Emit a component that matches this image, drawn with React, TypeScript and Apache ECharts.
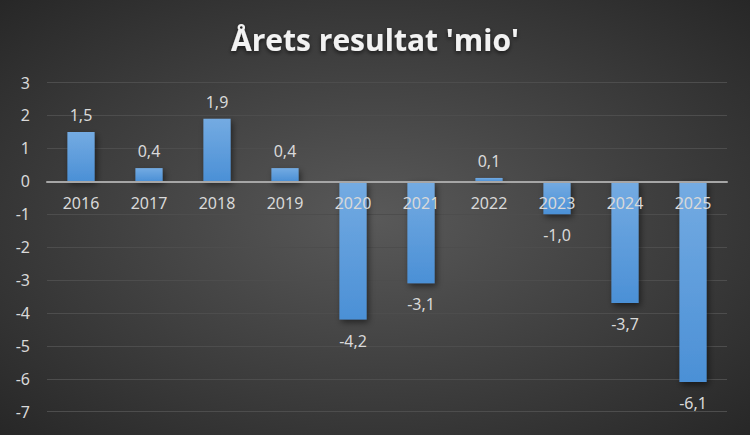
import React, { useEffect, useRef } from "react";
import * as echarts from "echarts";

const categories = ["2016", "2017", "2018", "2019", "2020", "2021", "2022", "2023", "2024", "2025"];
const values = [1.5, 0.4, 1.9, 0.4, -4.2, -3.1, 0.1, -1.0, -3.7, -6.1];
const yMin = -7;
const yMax = 3;

export default function App() {
  const ref = useRef<HTMLDivElement>(null);
  useEffect(() => {
    const chart = echarts.init(ref.current!, null, { renderer: "svg" });
    const font = "'Noto Sans', sans-serif";
    const gridTop = 82.5;
    const gridBottom = 23.3;
    const gridH = 435 - gridTop - gridBottom;
    const zeroFromBottom = (gridH * (0 - yMin)) / (yMax - yMin);
    chart.setOption({
      animation: false,
      backgroundColor: {
        type: "radial",
        x: 0.5,
        y: 0.5,
        r: 0.75,
        colorStops: [
          { offset: 0, color: "#595959" },
          { offset: 1, color: "#242424" },
        ],
      },
      title: {
        text: "Årets resultat 'mio'",
        left: "center",
        top: 19,
        textStyle: {
          color: "#f2f2f2",
          fontFamily: "'Open Sans', sans-serif",
          fontSize: 30,
          fontWeight: "bold",
          textShadowColor: "rgba(0,0,0,0.6)",
          textShadowBlur: 4,
          textShadowOffsetY: 2,
        },
      },
      grid: { left: 47, right: 23, top: gridTop, bottom: gridBottom, containLabel: false },
      xAxis: {
        type: "category",
        data: categories,
        z: 10,
        position: "bottom",
        offset: -zeroFromBottom,
        axisTick: { show: false },
        axisLine: { show: true, onZero: false, lineStyle: { color: "#a6a6a6", width: 2 } },
        axisLabel: { color: "#d9d9d9", fontFamily: font, fontSize: 16, margin: 14 },
      },
      yAxis: {
        type: "value",
        min: yMin,
        max: yMax,
        interval: 1,
        axisLine: { show: false },
        axisTick: { show: false },
        splitLine: { lineStyle: { color: "#4d4d4d", width: 1 } },
        axisLabel: { color: "#d9d9d9", fontFamily: font, fontSize: 16, margin: 17 },
      },
      series: [
        {
          type: "bar",
          barWidth: "40%",
          data: values.map((v) => ({
            value: v,
            label: {
              show: true,
              position: v >= 0 ? "top" : "bottom",
              distance: v >= 0 ? 9 : 13,
            },
          })),
          label: {
            color: "#d9d9d9",
            fontFamily: font,
            fontSize: 16,
            formatter: (p: any) => Number(p.value).toFixed(1).replace(".", ","),
          },
          itemStyle: {
            color: {
              type: "linear",
              x: 0,
              y: 0,
              x2: 0,
              y2: 1,
              colorStops: [
                { offset: 0, color: "#74abe2" },
                { offset: 1, color: "#4b90d6" },
              ],
            },
            shadowColor: "rgba(0,0,0,0.5)",
            shadowBlur: 6,
            shadowOffsetX: 2,
            shadowOffsetY: 3,
          },
        },
      ],
    });
    return () => chart.dispose();
  }, []);
  return <div ref={ref} style={{ width: 750, height: 435, position: "absolute", left: 0, top: 0 }} />;
}
